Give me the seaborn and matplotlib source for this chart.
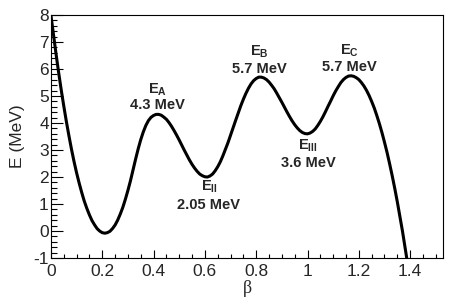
import pandas as pd
import seaborn as sns
import matplotlib.pyplot as plt
from matplotlib.ticker import MultipleLocator, FormatStrFormatter

# deformation parameter beta and energy (MeV)
beta = [0.00, 0.01, 0.02, 0.03, 0.04, 0.05, 0.06, 0.07, 0.08, 0.09,
        0.10, 0.11, 0.12, 0.13, 0.14, 0.15, 0.16, 0.17, 0.18, 0.19,
        0.20, 0.21, 0.22, 0.23, 0.24, 0.25, 0.26, 0.27, 0.28, 0.29,
        0.30, 0.31, 0.32, 0.33, 0.34, 0.35, 0.36, 0.37, 0.38, 0.39,
        0.40, 0.41, 0.42, 0.43, 0.44, 0.45, 0.46, 0.47, 0.48, 0.49,
        0.50, 0.51, 0.52, 0.53, 0.54, 0.55, 0.56, 0.57, 0.58, 0.59,
        0.60, 0.61, 0.62, 0.63, 0.64, 0.65, 0.66, 0.67, 0.68, 0.69,
        0.70, 0.71, 0.72, 0.73, 0.74, 0.75, 0.76, 0.77, 0.78, 0.79,
        0.80, 0.81, 0.82, 0.83, 0.84, 0.85, 0.86, 0.87, 0.88, 0.89,
        0.90, 0.91, 0.92, 0.93, 0.94, 0.95, 0.96, 0.97, 0.98, 0.99,
        1.00, 1.01, 1.02, 1.03, 1.04, 1.05, 1.06, 1.07, 1.08, 1.09,
        1.10, 1.11, 1.12, 1.13, 1.14, 1.15, 1.16, 1.17, 1.18, 1.19,
        1.20, 1.21, 1.22, 1.23, 1.24, 1.25, 1.26, 1.27, 1.28, 1.29,
        1.30, 1.31, 1.32, 1.33, 1.34, 1.35, 1.36, 1.37, 1.38, 1.39]
energy = [8.00, 7.27, 6.56, 5.88, 5.24, 4.64, 4.07, 3.54, 3.04, 2.58,
          2.16, 1.78, 1.43, 1.11, 0.84, 0.60, 0.39, 0.23, 0.09, 0.00,
          -0.06, -0.08, -0.06, -0.01, 0.09, 0.22, 0.40, 0.62, 0.87, 1.17,
          1.50, 1.86, 2.26, 2.66, 3.04, 3.38, 3.67, 3.91, 4.09, 4.21,
          4.28, 4.32, 4.32, 4.29, 4.22, 4.14, 4.02, 3.88, 3.72, 3.55,
          3.37, 3.18, 2.99, 2.81, 2.63, 2.47, 2.33, 2.21, 2.11, 2.05,
          2.01, 2.00, 2.04, 2.11, 2.23, 2.38, 2.56, 2.78, 3.02, 3.27,
          3.55, 3.82, 4.10, 4.37, 4.64, 4.88, 5.10, 5.29, 5.45, 5.57,
          5.65, 5.70, 5.70, 5.67, 5.61, 5.52, 5.40, 5.27, 5.11, 4.94,
          4.77, 4.59, 4.41, 4.24, 4.08, 3.94, 3.82, 3.72, 3.65, 3.61,
          3.60, 3.63, 3.69, 3.78, 3.91, 4.06, 4.23, 4.42, 4.62, 4.81,
          5.01, 5.19, 5.35, 5.50, 5.61, 5.69, 5.74, 5.75, 5.73, 5.68,
          5.61, 5.50, 5.37, 5.21, 5.02, 4.80, 4.56, 4.28, 3.98, 3.65,
          3.29, 2.91, 2.49, 2.05, 1.58, 1.08, 0.55, 0.00, -0.59, -1.20]

# barrier / well labels
lab_main = ["E$_{\\mathbf{A}}$", "E$_{\\mathbf{II}}$", "E$_{\\mathbf{B}}$",
            "E$_{\\mathbf{III}}$", "E$_{\\mathbf{C}}$"]
lab_vals = ["4.3 MeV", "2.05 MeV", "5.7 MeV", "3.6 MeV", "5.7 MeV"]
lab_beta = [0.415, 0.616, 0.811, 1.002, 1.162]
lab_top = [5.22, 1.64, 6.62, 3.17, 6.69]
lab_bot = [4.67, 0.96, 6.00, 2.52, 6.09]

df = pd.DataFrame({'beta': beta, 'E': energy})

sns.set_style("ticks")
plt.rcParams['font.family'] = ['Liberation Sans', 'DejaVu Sans']
plt.rcParams['mathtext.fontset'] = 'custom'
plt.rcParams['mathtext.rm'] = 'Liberation Sans:bold'
plt.rcParams['mathtext.bf'] = 'Liberation Sans:bold'
plt.rcParams['mathtext.it'] = 'Liberation Sans:bold'

fig = plt.figure(figsize=(4.67, 2.99), dpi=100)
ax = fig.add_axes([0.109, 0.137, 0.8396, 0.8127])
sns.lineplot(data=df, x='beta', y='E', ax=ax, color='black', lw=2.2,
             sort=False, estimator=None)

ax.set_xlim(0, 1.528)
ax.set_ylim(-1, 8)
ax.xaxis.set_major_locator(MultipleLocator(0.2))
ax.xaxis.set_minor_locator(MultipleLocator(0.05))
ax.yaxis.set_major_locator(MultipleLocator(1))
ax.yaxis.set_minor_locator(MultipleLocator(0.2))
ax.xaxis.set_major_formatter(FormatStrFormatter('%g'))
ax.yaxis.set_major_formatter(FormatStrFormatter('%g'))

ax.tick_params(axis='both', which='both', direction='in', top=False,
               right=False, labelsize=12.5, color='black')
ax.tick_params(axis='x', which='major', length=5.5, width=0.8, pad=4)
ax.tick_params(axis='x', which='minor', length=2.8, width=0.8)
ax.tick_params(axis='y', which='major', length=8.5, width=0.8, pad=1.5)
ax.tick_params(axis='y', which='minor', length=4.3, width=0.8)
for sp in ax.spines.values():
    sp.set_color('black')
    sp.set_linewidth(0.8)

ax.set_xlabel('β', fontsize=13, family='Liberation Serif', labelpad=1)
ax.set_ylabel('E (MeV)', fontsize=12.5, labelpad=6)

for m, v, bx, yt, yb in zip(lab_main, lab_vals, lab_beta, lab_top, lab_bot):
    ax.text(bx, yt, m, ha='center', va='center', fontsize=10.5,
            fontweight='bold')
    ax.text(bx, yb, v, ha='center', va='center', fontsize=10.5,
            fontweight='bold')

plt.savefig('out.png', dpi=100)
